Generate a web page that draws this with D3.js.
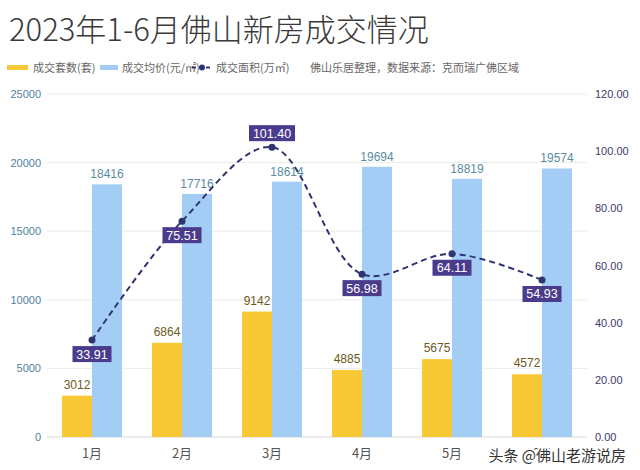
<!DOCTYPE html>
<html><head><meta charset="utf-8">
<script src="https://cdn.jsdelivr.net/npm/d3@7"></script>
<style>body{margin:0;background:#fff;} svg{display:block;font-family:"Noto Sans CJK SC","Noto Sans",sans-serif;}</style>
</head><body>
<svg id="c" width="640" height="470"></svg>
<script>
const months = ["1月","2月","3月","4月","5月","6月"];
const units = [3012, 6864, 9142, 4885, 5675, 4572];
const prices = [18416, 17716, 18614, 19694, 18819, 19574];
const areas = [33.91, 75.51, 101.40, 56.98, 64.11, 54.93];
const leftTicks = [0, 5000, 10000, 15000, 20000, 25000];
const rightTicks = [0, 20, 40, 60, 80, 100, 120];

const svg = d3.select("#c");
const L = 47, R = 587, T = 94, B = 437;
const x = d3.scaleBand().domain(months).range([L, R]);
const x1 = d3.scaleBand().domain(["u","p"]).range([0, x.bandwidth()]).paddingOuter(0.5);
const yL = d3.scaleLinear().domain([0, 25000]).range([B, T]);
const yR = d3.scaleLinear().domain([0, 120]).range([B, T]);

// title
svg.append("text").attr("x", 9).attr("y", 41).attr("font-size", 31).attr("font-weight", 300).attr("fill", "#3a3a3a")
  .text("2023年1-6月佛山新房成交情况");

// legend
const lg = svg.append("g").attr("font-size", 11).attr("fill", "#666");
lg.append("rect").attr("x", 7).attr("y", 65).attr("width", 21).attr("height", 5).attr("fill", "#F8C935");
lg.append("text").attr("x", 33).attr("y", 72).text("成交套数(套)");
lg.append("rect").attr("x", 100).attr("y", 65).attr("width", 18).attr("height", 5).attr("fill", "#A3CDF5");
lg.append("text").attr("x", 122).attr("y", 72).text("成交均价(元/㎡)");
lg.append("line").attr("x1", 192).attr("x2", 212).attr("y1", 67.5).attr("y2", 67.5)
  .attr("stroke", "#2f3570").attr("stroke-width", 2).attr("stroke-dasharray", "4,3");
lg.append("circle").attr("cx", 202).attr("cy", 67.5).attr("r", 3).attr("fill", "#2f3570");
lg.append("text").attr("x", 216).attr("y", 72).text("成交面积(万㎡)");
lg.append("text").attr("x", 310).attr("y", 72).text("佛山乐居整理，数据来源：克而瑞广佛区域");

// grid
svg.append("g").selectAll("line").data(leftTicks).join("line")
  .attr("x1", L).attr("x2", R).attr("y1", d => yL(d)).attr("y2", d => yL(d))
  .attr("stroke", d => d === 0 ? "#d8d8d8" : "#ececec").attr("stroke-width", 1);

// left axis
const ax = d3.axisLeft(yL).tickValues(leftTicks).tickSize(0).tickPadding(0).tickFormat(d3.format("d"));
const gL = svg.append("g").attr("transform", `translate(41,0)`).call(ax);
gL.select(".domain").remove();
gL.selectAll("text").attr("font-size", 11).attr("fill", "#4f7fa0").attr("font-family", "Liberation Sans, Arial, sans-serif");

// right axis
const axR = d3.axisRight(yR).tickValues(rightTicks).tickSize(0).tickPadding(0).tickFormat(d3.format(".2f"));
const gR = svg.append("g").attr("transform", `translate(595,0)`).call(axR);
gR.select(".domain").remove();
gR.selectAll("text").attr("font-size", 11).attr("fill", "#3d3a6a").attr("font-family", "Liberation Sans, Arial, sans-serif");

// x axis labels
svg.append("g").selectAll("text").data(months).join("text")
  .attr("x", d => x(d) + x.bandwidth()/2).attr("y", 458).attr("text-anchor", "middle")
  .attr("font-size", 13).attr("fill", "#555").text(d => d);

// bars
const gb = svg.append("g");
gb.selectAll(".u").data(units).join("rect").attr("class", "u")
  .attr("x", (d, i) => x(months[i]) + x1("u")).attr("width", x1.bandwidth())
  .attr("y", d => yL(d)).attr("height", d => B - yL(d)).attr("fill", "#F8C935");
gb.selectAll(".p").data(prices).join("rect").attr("class", "p")
  .attr("x", (d, i) => x(months[i]) + x1("p")).attr("width", x1.bandwidth())
  .attr("y", d => yL(d)).attr("height", d => B - yL(d)).attr("fill", "#A3CDF5");

gb.selectAll(".ut").data(units).join("text").attr("class", "ut")
  .attr("x", (d, i) => x(months[i]) + x1("u") + x1.bandwidth()/2).attr("y", d => yL(d) - 7)
  .attr("text-anchor", "middle").attr("font-size", 12).attr("fill", "#6b5a1e")
  .attr("font-family", "Liberation Sans, Arial, sans-serif").text(d => d);
gb.selectAll(".pt").data(prices).join("text").attr("class", "pt")
  .attr("x", (d, i) => x(months[i]) + x1("p") + x1.bandwidth()/2).attr("y", d => yL(d) - 6)
  .attr("text-anchor", "middle").attr("font-size", 12).attr("fill", "#5a8ca0")
  .attr("font-family", "Liberation Sans, Arial, sans-serif").text(d => d);

// line
const cx = (i) => x(months[i]) + x.bandwidth()/2;
const line = d3.line().x((d, i) => cx(i)).y(d => yR(d)).curve(d3.curveCatmullRom.alpha(0.5));
svg.append("path").datum(areas).attr("d", line).attr("fill", "none")
  .attr("stroke", "#2f3570").attr("stroke-width", 2).attr("stroke-dasharray", "6,4");
svg.append("g").selectAll("circle").data(areas).join("circle")
  .attr("cx", (d, i) => cx(i)).attr("cy", d => yR(d)).attr("r", 3.5).attr("fill", "#2f3570");

// line labels
const gl = svg.append("g");
areas.forEach((d, i) => {
  const above = d === d3.max(areas);
  const cy = yR(d) + (above ? -14 : 14);
  const txt = d.toFixed(2);
  const w = txt.length * 7 + 4;
  gl.append("rect").attr("x", cx(i) - w/2).attr("y", cy - 8).attr("width", w).attr("height", 16)
    .attr("fill", "#4a3b8c");
  gl.append("text").attr("x", cx(i)).attr("y", cy + 4.5).attr("text-anchor", "middle")
    .attr("font-size", 12.5).attr("fill", "#fff").attr("font-family", "Liberation Sans, Arial, sans-serif")
    .text(txt);
});

// watermark (covers the last month label, as in the reference)
svg.append("text").attr("x", 626).attr("y", 461).attr("text-anchor", "end")
  .attr("font-size", 15).attr("fill", "#333")
  .attr("stroke", "#fff").attr("stroke-width", 4).attr("paint-order", "stroke")
  .text("头条 @佛山老游说房");
</script>
</body></html>
